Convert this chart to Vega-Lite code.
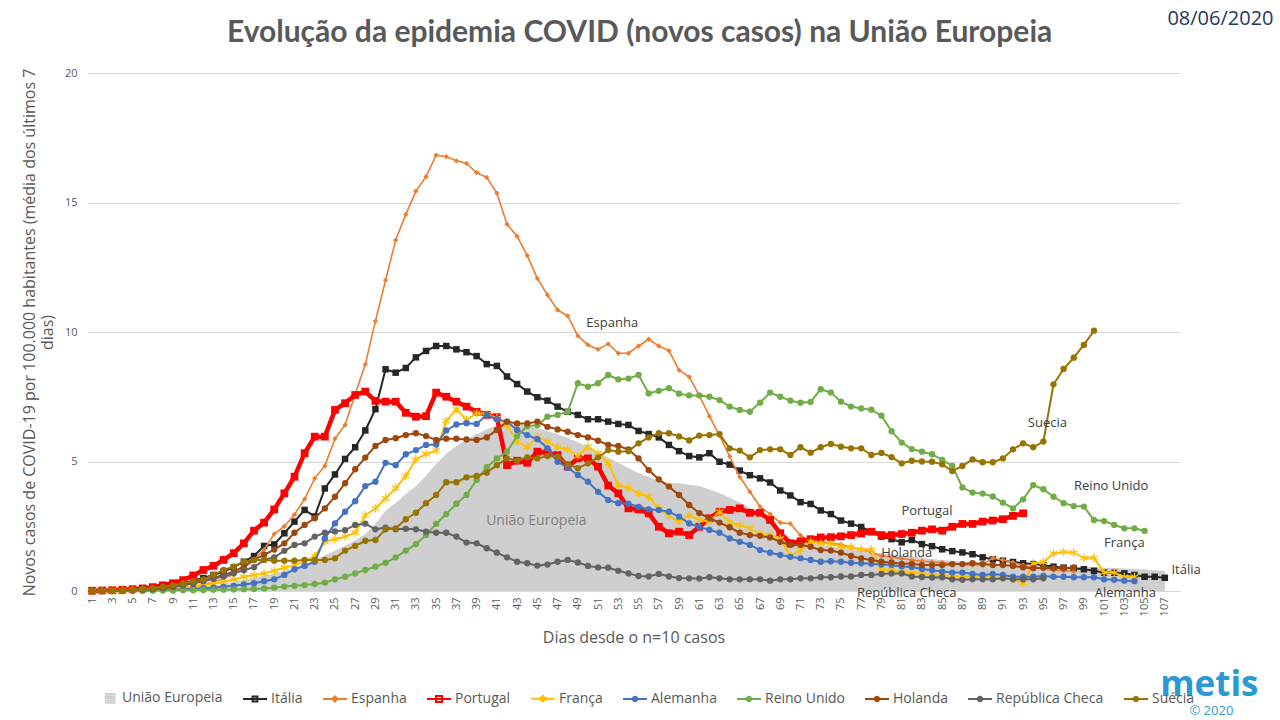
{
"$schema":"https://vega.github.io/schema/vega-lite/v6.json",
"width":1093,"height":518,
"autosize":{"type":"none"},
"padding":{"left":87,"top":73,"right":100,"bottom":129},
"background":"white",
"config":{"view":{"stroke":null}},
"data":{"values":[
{"d":1,"UE":0,"IT":0,"ES":0,"PT":0.01,"FR":0,"DE":0,"UK":0,"NL":0,"CZ":0,"SE":0},
{"d":2,"UE":0,"IT":0.01,"ES":0.01,"PT":0.02,"FR":0,"DE":0,"UK":0,"NL":0.01,"CZ":0,"SE":0.01},
{"d":3,"UE":0.01,"IT":0.02,"ES":0.01,"PT":0.03,"FR":0.01,"DE":0,"UK":0,"NL":0.02,"CZ":0.01,"SE":0.02},
{"d":4,"UE":0.01,"IT":0.03,"ES":0.02,"PT":0.05,"FR":0.02,"DE":0.01,"UK":0,"NL":0.03,"CZ":0.02,"SE":0.03},
{"d":5,"UE":0.02,"IT":0.05,"ES":0.03,"PT":0.07,"FR":0.03,"DE":0.01,"UK":0.01,"NL":0.04,"CZ":0.03,"SE":0.05},
{"d":6,"UE":0.03,"IT":0.08,"ES":0.04,"PT":0.1,"FR":0.04,"DE":0.02,"UK":0.01,"NL":0.06,"CZ":0.05,"SE":0.08},
{"d":7,"UE":0.04,"IT":0.12,"ES":0.05,"PT":0.15,"FR":0.06,"DE":0.03,"UK":0.01,"NL":0.08,"CZ":0.08,"SE":0.12},
{"d":8,"UE":0.05,"IT":0.17,"ES":0.07,"PT":0.22,"FR":0.08,"DE":0.04,"UK":0.02,"NL":0.11,"CZ":0.12,"SE":0.16},
{"d":9,"UE":0.07,"IT":0.22,"ES":0.09,"PT":0.3,"FR":0.1,"DE":0.05,"UK":0.02,"NL":0.15,"CZ":0.17,"SE":0.22},
{"d":10,"UE":0.1,"IT":0.3,"ES":0.12,"PT":0.42,"FR":0.13,"DE":0.07,"UK":0.03,"NL":0.22,"CZ":0.23,"SE":0.3},
{"d":11,"UE":0.13,"IT":0.4,"ES":0.18,"PT":0.6,"FR":0.17,"DE":0.09,"UK":0.03,"NL":0.3,"CZ":0.3,"SE":0.38},
{"d":12,"UE":0.17,"IT":0.5,"ES":0.25,"PT":0.81,"FR":0.22,"DE":0.11,"UK":0.04,"NL":0.4,"CZ":0.38,"SE":0.45},
{"d":13,"UE":0.22,"IT":0.62,"ES":0.35,"PT":0.97,"FR":0.28,"DE":0.13,"UK":0.05,"NL":0.5,"CZ":0.47,"SE":0.62},
{"d":14,"UE":0.28,"IT":0.75,"ES":0.48,"PT":1.2,"FR":0.35,"DE":0.16,"UK":0.05,"NL":0.62,"CZ":0.57,"SE":0.81},
{"d":15,"UE":0.35,"IT":0.92,"ES":0.65,"PT":1.46,"FR":0.45,"DE":0.2,"UK":0.06,"NL":0.75,"CZ":0.68,"SE":0.94},
{"d":16,"UE":0.43,"IT":1.13,"ES":0.88,"PT":1.84,"FR":0.55,"DE":0.25,"UK":0.07,"NL":0.95,"CZ":0.8,"SE":1.13},
{"d":17,"UE":0.52,"IT":1.35,"ES":1.2,"PT":2.33,"FR":0.62,"DE":0.3,"UK":0.08,"NL":1.2,"CZ":0.92,"SE":1.2},
{"d":18,"UE":0.6,"IT":1.74,"ES":1.6,"PT":2.64,"FR":0.68,"DE":0.38,"UK":0.1,"NL":1.4,"CZ":1.2,"SE":1.2},
{"d":19,"UE":0.68,"IT":1.8,"ES":2.2,"PT":3.15,"FR":0.78,"DE":0.45,"UK":0.13,"NL":1.6,"CZ":1.3,"SE":1.17},
{"d":20,"UE":0.78,"IT":2.23,"ES":2.5,"PT":3.77,"FR":0.9,"DE":0.62,"UK":0.17,"NL":1.84,"CZ":1.55,"SE":1.17},
{"d":21,"UE":0.9,"IT":2.68,"ES":2.95,"PT":4.41,"FR":1.0,"DE":0.84,"UK":0.2,"NL":2.25,"CZ":1.78,"SE":1.17},
{"d":22,"UE":1.05,"IT":3.13,"ES":3.55,"PT":5.32,"FR":1.13,"DE":0.97,"UK":0.23,"NL":2.55,"CZ":1.84,"SE":1.2},
{"d":23,"UE":1.2,"IT":2.88,"ES":4.35,"PT":5.96,"FR":1.35,"DE":1.13,"UK":0.27,"NL":2.81,"CZ":2.1,"SE":1.2},
{"d":24,"UE":1.38,"IT":3.96,"ES":4.83,"PT":5.96,"FR":1.9,"DE":2.03,"UK":0.32,"NL":3.19,"CZ":2.25,"SE":1.2},
{"d":25,"UE":1.55,"IT":4.5,"ES":5.88,"PT":6.99,"FR":2.0,"DE":2.61,"UK":0.45,"NL":3.64,"CZ":2.3,"SE":1.26},
{"d":26,"UE":1.75,"IT":5.1,"ES":6.41,"PT":7.25,"FR":2.1,"DE":3.06,"UK":0.55,"NL":4.16,"CZ":2.35,"SE":1.56},
{"d":27,"UE":1.95,"IT":5.55,"ES":7.6,"PT":7.57,"FR":2.25,"DE":3.47,"UK":0.68,"NL":4.7,"CZ":2.55,"SE":1.74},
{"d":28,"UE":2.2,"IT":6.2,"ES":8.75,"PT":7.7,"FR":2.93,"DE":4.05,"UK":0.81,"NL":5.15,"CZ":2.6,"SE":1.94},
{"d":29,"UE":2.6,"IT":7.02,"ES":10.42,"PT":7.34,"FR":3.19,"DE":4.22,"UK":0.94,"NL":5.6,"CZ":2.38,"SE":1.97},
{"d":30,"UE":3.1,"IT":8.56,"ES":12.0,"PT":7.31,"FR":3.58,"DE":4.95,"UK":1.09,"NL":5.83,"CZ":2.45,"SE":2.38},
{"d":31,"UE":3.4,"IT":8.43,"ES":13.55,"PT":7.31,"FR":3.97,"DE":4.86,"UK":1.3,"NL":5.9,"CZ":2.38,"SE":2.42},
{"d":32,"UE":3.75,"IT":8.61,"ES":14.54,"PT":6.88,"FR":4.44,"DE":5.28,"UK":1.56,"NL":6.02,"CZ":2.4,"SE":2.77},
{"d":33,"UE":4.05,"IT":9.02,"ES":15.44,"PT":6.73,"FR":5.08,"DE":5.44,"UK":1.81,"NL":6.09,"CZ":2.38,"SE":3.02},
{"d":34,"UE":4.45,"IT":9.27,"ES":16.0,"PT":6.75,"FR":5.29,"DE":5.64,"UK":2.16,"NL":5.98,"CZ":2.29,"SE":3.39},
{"d":35,"UE":4.9,"IT":9.46,"ES":16.83,"PT":7.66,"FR":5.42,"DE":5.66,"UK":2.59,"NL":5.83,"CZ":2.25,"SE":3.71},
{"d":36,"UE":5.3,"IT":9.46,"ES":16.77,"PT":7.5,"FR":6.56,"DE":6.2,"UK":2.97,"NL":5.88,"CZ":2.25,"SE":4.2},
{"d":37,"UE":5.6,"IT":9.33,"ES":16.61,"PT":7.31,"FR":7.02,"DE":6.43,"UK":3.37,"NL":5.88,"CZ":2.1,"SE":4.2},
{"d":38,"UE":5.85,"IT":9.22,"ES":16.51,"PT":7.12,"FR":6.6,"DE":6.48,"UK":3.71,"NL":5.85,"CZ":1.87,"SE":4.39},
{"d":39,"UE":6.05,"IT":9.07,"ES":16.15,"PT":6.92,"FR":6.87,"DE":6.45,"UK":4.29,"NL":5.83,"CZ":1.84,"SE":4.44},
{"d":40,"UE":6.25,"IT":8.76,"ES":15.97,"PT":6.8,"FR":6.83,"DE":6.8,"UK":4.78,"NL":5.93,"CZ":1.65,"SE":4.57},
{"d":41,"UE":6.4,"IT":8.69,"ES":15.36,"PT":6.71,"FR":6.67,"DE":6.63,"UK":5.12,"NL":6.22,"CZ":1.48,"SE":4.86},
{"d":42,"UE":6.47,"IT":8.28,"ES":14.16,"PT":4.86,"FR":6.41,"DE":6.54,"UK":5.38,"NL":6.54,"CZ":1.3,"SE":5.12},
{"d":43,"UE":6.45,"IT":7.99,"ES":13.7,"PT":5.03,"FR":5.77,"DE":6.22,"UK":5.98,"NL":6.47,"CZ":1.13,"SE":5.03},
{"d":44,"UE":6.38,"IT":7.7,"ES":12.95,"PT":4.95,"FR":5.55,"DE":6.02,"UK":6.37,"NL":6.47,"CZ":1.07,"SE":5.16},
{"d":45,"UE":6.28,"IT":7.48,"ES":12.07,"PT":5.38,"FR":5.96,"DE":5.86,"UK":6.4,"NL":6.54,"CZ":0.98,"SE":5.12},
{"d":46,"UE":6.18,"IT":7.35,"ES":11.43,"PT":5.34,"FR":5.77,"DE":5.51,"UK":6.73,"NL":6.34,"CZ":1.02,"SE":5.21},
{"d":47,"UE":6.05,"IT":7.12,"ES":10.85,"PT":5.25,"FR":5.55,"DE":4.99,"UK":6.8,"NL":6.24,"CZ":1.13,"SE":5.18},
{"d":48,"UE":5.9,"IT":6.92,"ES":10.62,"PT":4.8,"FR":5.47,"DE":4.76,"UK":6.92,"NL":6.15,"CZ":1.2,"SE":4.9},
{"d":49,"UE":5.75,"IT":6.8,"ES":9.85,"PT":5.12,"FR":5.21,"DE":4.48,"UK":8.02,"NL":6.02,"CZ":1.1,"SE":4.74},
{"d":50,"UE":5.55,"IT":6.63,"ES":9.5,"PT":5.12,"FR":5.57,"DE":4.22,"UK":7.89,"NL":5.93,"CZ":0.97,"SE":4.93},
{"d":51,"UE":5.35,"IT":6.63,"ES":9.33,"PT":4.8,"FR":5.32,"DE":3.83,"UK":8.02,"NL":5.8,"CZ":0.91,"SE":5.16},
{"d":52,"UE":5.15,"IT":6.54,"ES":9.54,"PT":4.07,"FR":4.93,"DE":3.51,"UK":8.34,"NL":5.64,"CZ":0.9,"SE":5.44},
{"d":53,"UE":4.95,"IT":6.45,"ES":9.18,"PT":3.77,"FR":4.09,"DE":3.39,"UK":8.17,"NL":5.6,"CZ":0.78,"SE":5.38},
{"d":54,"UE":4.75,"IT":6.41,"ES":9.18,"PT":3.19,"FR":3.97,"DE":3.37,"UK":8.2,"NL":5.47,"CZ":0.68,"SE":5.4},
{"d":55,"UE":4.55,"IT":6.18,"ES":9.46,"PT":3.15,"FR":3.77,"DE":3.25,"UK":8.34,"NL":5.12,"CZ":0.58,"SE":5.7},
{"d":56,"UE":4.4,"IT":6.06,"ES":9.72,"PT":3.0,"FR":3.64,"DE":3.15,"UK":7.63,"NL":4.67,"CZ":0.56,"SE":5.93},
{"d":57,"UE":4.25,"IT":5.93,"ES":9.46,"PT":2.48,"FR":3.19,"DE":3.13,"UK":7.73,"NL":4.31,"CZ":0.66,"SE":6.09},
{"d":58,"UE":4.18,"IT":5.64,"ES":9.28,"PT":2.23,"FR":2.9,"DE":3.06,"UK":7.83,"NL":4.03,"CZ":0.56,"SE":6.09},
{"d":59,"UE":4.15,"IT":5.4,"ES":8.53,"PT":2.29,"FR":2.68,"DE":2.87,"UK":7.62,"NL":3.71,"CZ":0.5,"SE":5.97},
{"d":60,"UE":4.1,"IT":5.21,"ES":8.27,"PT":2.16,"FR":2.93,"DE":2.61,"UK":7.55,"NL":3.32,"CZ":0.49,"SE":5.81},
{"d":61,"UE":4.05,"IT":5.16,"ES":7.55,"PT":2.48,"FR":2.74,"DE":2.47,"UK":7.55,"NL":3.01,"CZ":0.48,"SE":6.0},
{"d":62,"UE":3.92,"IT":5.32,"ES":6.75,"PT":2.81,"FR":2.68,"DE":2.36,"UK":7.5,"NL":2.81,"CZ":0.53,"SE":6.02},
{"d":63,"UE":3.78,"IT":4.99,"ES":6.0,"PT":3.06,"FR":3.06,"DE":2.25,"UK":7.37,"NL":2.64,"CZ":0.49,"SE":6.06},
{"d":64,"UE":3.6,"IT":4.88,"ES":5.2,"PT":3.13,"FR":2.64,"DE":2.03,"UK":7.12,"NL":2.46,"CZ":0.45,"SE":5.51},
{"d":65,"UE":3.42,"IT":4.65,"ES":4.4,"PT":3.19,"FR":2.55,"DE":1.9,"UK":6.99,"NL":2.25,"CZ":0.45,"SE":5.42},
{"d":66,"UE":3.2,"IT":4.47,"ES":3.83,"PT":3.02,"FR":2.42,"DE":1.78,"UK":6.92,"NL":2.16,"CZ":0.45,"SE":5.16},
{"d":67,"UE":2.95,"IT":4.35,"ES":3.26,"PT":3.02,"FR":2.2,"DE":1.58,"UK":7.27,"NL":2.13,"CZ":0.45,"SE":5.44},
{"d":68,"UE":2.65,"IT":4.19,"ES":2.97,"PT":2.74,"FR":2.16,"DE":1.48,"UK":7.66,"NL":2.07,"CZ":0.4,"SE":5.47},
{"d":69,"UE":2.3,"IT":3.88,"ES":2.64,"PT":2.23,"FR":2.03,"DE":1.39,"UK":7.5,"NL":1.9,"CZ":0.45,"SE":5.47},
{"d":70,"UE":2.05,"IT":3.69,"ES":2.6,"PT":1.84,"FR":1.35,"DE":1.32,"UK":7.35,"NL":1.78,"CZ":0.45,"SE":5.25},
{"d":71,"UE":1.92,"IT":3.43,"ES":2.15,"PT":1.92,"FR":1.58,"DE":1.26,"UK":7.27,"NL":1.78,"CZ":0.49,"SE":5.55},
{"d":72,"UE":1.84,"IT":3.36,"ES":1.92,"PT":2.0,"FR":1.9,"DE":1.2,"UK":7.3,"NL":1.71,"CZ":0.49,"SE":5.34},
{"d":73,"UE":1.78,"IT":3.11,"ES":1.91,"PT":2.07,"FR":1.84,"DE":1.13,"UK":7.79,"NL":1.58,"CZ":0.53,"SE":5.55},
{"d":74,"UE":1.72,"IT":2.97,"ES":1.84,"PT":2.08,"FR":1.82,"DE":1.15,"UK":7.66,"NL":1.56,"CZ":0.53,"SE":5.68},
{"d":75,"UE":1.66,"IT":2.72,"ES":1.8,"PT":2.11,"FR":1.71,"DE":1.13,"UK":7.31,"NL":1.48,"CZ":0.56,"SE":5.57},
{"d":76,"UE":1.62,"IT":2.6,"ES":1.69,"PT":2.16,"FR":1.7,"DE":1.09,"UK":7.12,"NL":1.35,"CZ":0.56,"SE":5.51},
{"d":77,"UE":1.56,"IT":2.47,"ES":1.61,"PT":2.22,"FR":1.6,"DE":1.07,"UK":7.05,"NL":1.26,"CZ":0.62,"SE":5.51},
{"d":78,"UE":1.5,"IT":2.29,"ES":1.5,"PT":2.29,"FR":1.6,"DE":1.05,"UK":7.0,"NL":1.2,"CZ":0.62,"SE":5.25},
{"d":79,"UE":1.45,"IT":2.1,"ES":1.35,"PT":2.16,"FR":0.82,"DE":1.02,"UK":6.77,"NL":1.13,"CZ":0.66,"SE":5.33},
{"d":80,"UE":1.41,"IT":2.0,"ES":1.3,"PT":2.16,"FR":0.8,"DE":1.0,"UK":6.17,"NL":1.1,"CZ":0.68,"SE":5.17},
{"d":81,"UE":1.37,"IT":1.88,"ES":1.25,"PT":2.2,"FR":0.72,"DE":0.95,"UK":5.73,"NL":1.05,"CZ":0.68,"SE":4.93},
{"d":82,"UE":1.33,"IT":1.97,"ES":1.2,"PT":2.25,"FR":0.7,"DE":0.93,"UK":5.48,"NL":1.05,"CZ":0.56,"SE":5.03},
{"d":83,"UE":1.28,"IT":1.81,"ES":1.15,"PT":2.33,"FR":0.68,"DE":0.85,"UK":5.38,"NL":1.0,"CZ":0.54,"SE":5.0},
{"d":84,"UE":1.23,"IT":1.73,"ES":1.12,"PT":2.38,"FR":0.62,"DE":0.8,"UK":5.28,"NL":1.0,"CZ":0.52,"SE":4.99},
{"d":85,"UE":1.2,"IT":1.61,"ES":1.1,"PT":2.33,"FR":0.6,"DE":0.75,"UK":5.06,"NL":1.0,"CZ":0.53,"SE":4.89},
{"d":86,"UE":1.17,"IT":1.54,"ES":1.05,"PT":2.48,"FR":0.58,"DE":0.71,"UK":4.83,"NL":1.04,"CZ":0.45,"SE":4.63},
{"d":87,"UE":1.14,"IT":1.49,"ES":1.02,"PT":2.59,"FR":0.56,"DE":0.71,"UK":4.0,"NL":1.04,"CZ":0.43,"SE":4.83},
{"d":88,"UE":1.11,"IT":1.42,"ES":1.0,"PT":2.59,"FR":0.55,"DE":0.66,"UK":3.8,"NL":1.07,"CZ":0.45,"SE":5.08},
{"d":89,"UE":1.08,"IT":1.3,"ES":1.02,"PT":2.68,"FR":0.54,"DE":0.62,"UK":3.76,"NL":1.04,"CZ":0.45,"SE":4.97},
{"d":90,"UE":1.06,"IT":1.22,"ES":1.27,"PT":2.72,"FR":0.52,"DE":0.66,"UK":3.65,"NL":1.0,"CZ":0.45,"SE":4.97},
{"d":91,"UE":1.04,"IT":1.17,"ES":1.2,"PT":2.77,"FR":0.5,"DE":0.62,"UK":3.41,"NL":1.0,"CZ":0.49,"SE":5.12},
{"d":92,"UE":1.02,"IT":1.12,"ES":1.1,"PT":2.9,"FR":0.45,"DE":0.55,"UK":3.19,"NL":0.97,"CZ":0.45,"SE":5.47},
{"d":93,"UE":1.0,"IT":1.07,"ES":1.0,"PT":3.0,"FR":0.3,"DE":0.55,"UK":3.54,"NL":0.91,"CZ":0.45,"SE":5.7},
{"d":94,"UE":0.98,"IT":1.04,"ES":0.9,"FR":1.06,"DE":0.55,"UK":4.09,"NL":0.88,"CZ":0.45,"SE":5.55},
{"d":95,"UE":0.97,"IT":1.0,"ES":0.85,"FR":1.11,"DE":0.58,"UK":3.93,"NL":0.9,"CZ":0.49,"SE":5.77},
{"d":96,"UE":0.96,"IT":0.94,"ES":0.8,"FR":1.45,"DE":0.55,"UK":3.64,"NL":0.88,"SE":7.98},
{"d":97,"UE":0.95,"IT":0.9,"ES":0.78,"FR":1.51,"DE":0.55,"UK":3.39,"NL":0.88,"SE":8.57},
{"d":98,"UE":0.94,"IT":0.88,"ES":0.75,"FR":1.48,"DE":0.53,"UK":3.28,"NL":0.91,"SE":9.01},
{"d":99,"UE":0.93,"IT":0.84,"FR":1.28,"DE":0.53,"UK":3.26,"SE":9.5},
{"d":100,"UE":0.92,"IT":0.78,"FR":1.28,"DE":0.53,"UK":2.74,"SE":10.05},
{"d":101,"UE":0.9,"IT":0.71,"FR":0.71,"DE":0.45,"UK":2.7},
{"d":102,"UE":0.89,"IT":0.7,"FR":0.71,"DE":0.43,"UK":2.55},
{"d":103,"UE":0.87,"IT":0.68,"FR":0.54,"DE":0.4,"UK":2.42},
{"d":104,"UE":0.85,"IT":0.62,"FR":0.54,"DE":0.38,"UK":2.42},
{"d":105,"UE":0.83,"IT":0.55,"UK":2.32},
{"d":106,"UE":0.8,"IT":0.55},
{"d":107,"UE":0.77,"IT":0.51}
]},
"encoding":{
"x":{"field":"d","type":"quantitative","scale":{"domain":[0.5,108.5],"nice":false,"zero":false},
 "axis":{"values":[1,3,5,7,9,11,13,15,17,19,21,23,25,27,29,31,33,35,37,39,41,43,45,47,49,51,53,55,57,59,61,63,65,67,69,71,73,75,77,79,81,83,85,87,89,91,93,95,97,99,101,103,105,107],
 "labelAngle":-90,"labelFont":"Open Sans","labelFontSize":11,"labelColor":"#595959","labelPadding":6,"labelOverlap":false,"labelFlush":false,"labelBound":false,
 "grid":false,"ticks":false,"domainColor":"#d9d9d9","domainWidth":1,
 "title":"Dias desde o n=10 casos","titleFont":"Open Sans","titleFontSize":16,"titleFontWeight":"normal","titleColor":"#595959","titleY":46,"titleBaseline":"middle"}},
"y":{"field":"v","type":"quantitative","scale":{"domain":[0,20],"nice":false},
 "axis":{"values":[0,5,10,15,20],"grid":true,"gridColor":"#d9d9d9","domain":false,"ticks":false,"labelPadding":10,"labelFont":"Open Sans","labelFontSize":11,"labelColor":"#595959",
 "title":["Novos casos de COVID-19 por 100.000 habitantes (média dos últimos 7","dias)"],"titleFont":"Open Sans","titleFontSize":16,"titleFontWeight":"normal","titleColor":"#595959","titleX":-58,"titleY":259,"titleAngle":-90,"titleBaseline":"middle","titleAlign":"center","titleLineHeight":18}}
},
"layer":[
{"transform":[{"fold":["UE","IT","ES","PT","FR","DE","UK","NL","CZ","SE"],"as":["s","v"]},{"filter":"isValid(datum.v)"}],
 "layer":[
 {"transform":[{"filter":"datum.s=='UE'"}],"mark":{"type":"area","color":"#cfcfcf","opacity":1}},
 {"transform":[{"filter":"datum.s=='IT'"}],"mark":{"type":"line","color":"#262626","strokeWidth":2,"point":{"shape":"square","size":42,"filled":true,"opacity":1,"color":"#262626"}}},
 {"transform":[{"filter":"datum.s=='ES'"}],"mark":{"type":"line","color":"#ed7d31","strokeWidth":1.6,"point":{"shape":"diamond","size":28,"filled":true,"opacity":1,"color":"#ed7d31"}}},
 {"transform":[{"filter":"datum.s=='PT'"}],"mark":{"type":"line","color":"#ff0000","strokeWidth":4.5,"point":{"shape":"square","size":60,"filled":true,"opacity":1,"color":"#ff0000"}}},
 {"transform":[{"filter":"datum.s=='FR'"}],"mark":{"type":"line","color":"#ffc000","strokeWidth":2,"point":{"shape":"M0,-1V1M-0.87,-0.5L0.87,0.5M-0.87,0.5L0.87,-0.5","size":70,"filled":false,"opacity":1,"strokeWidth":1.3,"color":"#ffc000"}}},
 {"transform":[{"filter":"datum.s=='DE'"}],"mark":{"type":"line","color":"#4472c4","strokeWidth":2,"point":{"shape":"circle","size":40,"filled":true,"opacity":1,"color":"#4472c4"}}},
 {"transform":[{"filter":"datum.s=='UK'"}],"mark":{"type":"line","color":"#70ad47","strokeWidth":2,"point":{"shape":"circle","size":40,"filled":true,"opacity":1,"color":"#70ad47"}}},
 {"transform":[{"filter":"datum.s=='NL'"}],"mark":{"type":"line","color":"#9e480e","strokeWidth":2,"point":{"shape":"circle","size":40,"filled":true,"opacity":1,"color":"#9e480e"}}},
 {"transform":[{"filter":"datum.s=='CZ'"}],"mark":{"type":"line","color":"#636363","strokeWidth":2,"point":{"shape":"circle","size":40,"filled":true,"opacity":1,"color":"#636363"}}},
 {"transform":[{"filter":"datum.s=='SE'"}],"mark":{"type":"line","color":"#997300","strokeWidth":2,"point":{"shape":"circle","size":40,"filled":true,"opacity":1,"color":"#997300"}}}
 ]},
{"data":{"values":[{"n":"União Europeia"},{"n":"Itália"},{"n":"Espanha"},{"n":"Portugal"},{"n":"França"},{"n":"Alemanha"},{"n":"Reino Unido"},{"n":"Holanda"},{"n":"República Checa"},{"n":"Suécia"}]},
 "transform":[{"filter":"false"}],
 "mark":{"type":"point","filled":false,"opacity":1},
 "encoding":{
  "x":{"value":0},"y":{"value":0},
  "color":{"field":"n","type":"nominal","scale":{"domain":["União Europeia","Itália","Espanha","Portugal","França","Alemanha","Reino Unido","Holanda","República Checa","Suécia"],"range":["#cfcfcf","#262626","#ed7d31","#ff0000","#ffc000","#4472c4","#70ad47","#9e480e","#636363","#997300"]},
   "legend":{"orient":"none","legendX":6,"legendY":612,"direction":"horizontal","columns":10,"title":null,"symbolSize":576,"symbolStrokeWidth":2,"labelFont":"Open Sans","labelFontSize":14,"labelColor":"#595959","labelOffset":3,"columnPadding":16,"labelLimit":300}},
  "shape":{"field":"n","type":"nominal","scale":{"domain":["União Europeia","Itália","Espanha","Portugal","França","Alemanha","Reino Unido","Holanda","República Checa","Suécia"],
   "range":["M-0.1,-0.36H0.8M-0.1,-0.18H0.8M-0.1,0H0.8M-0.1,0.18H0.8M-0.1,0.36H0.8","M-1,0H1M-0.2,-0.2H0.2V0.2H-0.2Z","M-1,0H1M0,-0.22L0.22,0L0,0.22L-0.22,0Z","M-1,0H1M-0.25,-0.25H0.25V0.25H-0.25Z","M-1,0H1M0,-0.3V0.3M-0.26,-0.15L0.26,0.15M-0.26,0.15L0.26,-0.15","M-1,0H1M-0.18,0A0.18,0.18 0 1,0 0.18,0A0.18,0.18 0 1,0 -0.18,0Z","M-1,0H1M-0.18,0A0.18,0.18 0 1,0 0.18,0A0.18,0.18 0 1,0 -0.18,0Z","M-1,0H1M-0.18,0A0.18,0.18 0 1,0 0.18,0A0.18,0.18 0 1,0 -0.18,0Z","M-1,0H1M-0.18,0A0.18,0.18 0 1,0 0.18,0A0.18,0.18 0 1,0 -0.18,0Z","M-1,0H1M-0.18,0A0.18,0.18 0 1,0 0.18,0A0.18,0.18 0 1,0 -0.18,0Z"]},
   "legend":{"orient":"none","legendX":6,"legendY":612,"direction":"horizontal","columns":10,"title":null,"symbolSize":576,"symbolStrokeWidth":2,"labelFont":"Open Sans","labelFontSize":14,"labelColor":"#595959","labelOffset":3,"columnPadding":16,"labelLimit":300}}
 }},
{"data":{"values":[
 {"t":"Espanha","d":52.4,"v":10.35},
 {"t":"Suecia","d":95.4,"v":6.49},
 {"t":"Reino Unido","d":101.7,"v":4.05},
 {"t":"Portugal","d":83.5,"v":3.09},
 {"t":"Holanda","d":81.5,"v":1.47},
 {"t":"República Checa","d":81.5,"v":-0.08},
 {"t":"França","d":103.0,"v":1.85},
 {"t":"Itália","d":109.1,"v":0.81},
 {"t":"Alemanha","d":103.1,"v":-0.08}]},
 "mark":{"type":"text","font":"Open Sans","fontSize":13,"color":"#404040","align":"center","baseline":"middle"},
 "encoding":{"text":{"field":"t"}}},
{"data":{"values":[{"t":"União Europeia","d":44.9,"v":2.7}]},
 "mark":{"type":"text","font":"Open Sans","fontSize":14,"color":"#7f7f7f","align":"center","baseline":"middle"},
 "encoding":{"text":{"field":"t"}}},
{"data":{"values":[{"t":"Evolução da epidemia COVID (novos casos) na União Europeia","d":55.1,"v":21.2}]},
 "mark":{"type":"text","font":"Lato","fontSize":30,"fontWeight":"bold","color":"#595959","align":"center","baseline":"alphabetic"},
 "encoding":{"text":{"field":"t"}}},
{"data":{"values":[{"t":"08/06/2020","d":112.5,"v":22.08}]},
 "mark":{"type":"text","font":"Open Sans","fontSize":20,"color":"#1f3864","align":"center","baseline":"middle"},
 "encoding":{"text":{"field":"t"}}},
{"data":{"values":[{"t":"metis","d":111.4,"v":-4.05}]},
 "mark":{"type":"text","font":"Open Sans","fontSize":35,"fontWeight":"bold","color":"#2b9ad3","align":"center","baseline":"alphabetic"},
 "encoding":{"text":{"field":"t"}}},
{"data":{"values":[{"t":"© 2020","d":111.6,"v":-4.8}]},
 "mark":{"type":"text","font":"Open Sans","fontSize":13,"color":"#2b9ad3","align":"center","baseline":"alphabetic"},
 "encoding":{"text":{"field":"t"}}}
]
}
